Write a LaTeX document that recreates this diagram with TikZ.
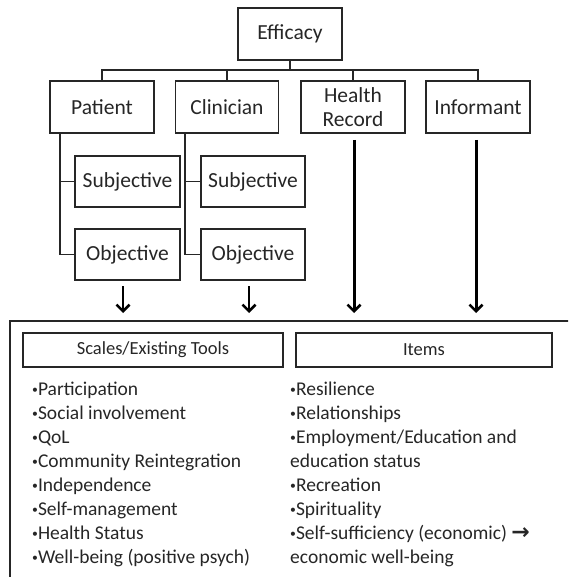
\documentclass[tikz,border=0pt]{standalone}
\usepackage{graphicx}
\usepackage{fontspec}
\setmainfont{Carlito}
\newfontfamily\symfont{DejaVu Sans}
\newcommand\blt{\raisebox{2pt}{\scalebox{0.6}{•}}}
\usetikzlibrary{arrows.meta}
\tikzset{
  box/.style={draw=black!85, line width=1.2pt, minimum width=104pt, minimum height=52pt, inner sep=0pt, align=center, font=\fontsize{21.5}{24}\selectfont, text=black!85},
  subbox/.style={box, minimum width=105pt, minimum height=51pt},
  hdr/.style={draw=black!85, line width=1.2pt, minimum height=34pt, inner sep=0pt, font=\fontsize{18.5}{22}\selectfont, text=black!85},
  conn/.style={draw=black!85, line width=1.2pt},
  shortarr/.style={line width=2.2pt, -{Straight Barb[length=6.5pt, width=13pt, line width=2.6pt]}},
  longarr/.style={line width=3pt, -{Straight Barb[length=6.5pt, width=13pt, line width=2.6pt]}},
  item/.style={anchor=base west, inner sep=0pt, font=\fontsize{19.5}{24}\selectfont, text=black!85}
}
\begin{document}
\begin{tikzpicture}[x=1pt, y=-1pt]
\useasboundingbox (0,0) rectangle (568,577);
\begin{scope}
\clip (0,0) rectangle (568,577);
% top nodes
\node[box] (eff) at (290,34) {Efficacy};
\node[box] (pat) at (102,107) {Patient};
\node[box, minimum width=103pt] (cli) at (227,107) {Clinician};
\node[box] (hr) at (353,107) {Health\\Record};
\node[box] (inf) at (478,107) {Informant};
\node[subbox] (psub) at (127.5,181.5) {Subjective};
\node[subbox] (pobj) at (127.5,254.5) {Objective};
\node[subbox, minimum width=104pt] (csub) at (253,181.5) {Subjective};
\node[subbox, minimum width=104pt] (cobj) at (253,254.5) {Objective};
% tree connectors
\coordinate (bus) at (290,70);
\draw[conn] (eff.south) -- (bus);
\draw[conn] (pat.north) |- (bus) -| (inf.north);
\draw[conn] (cli.north) -- (cli.north |- bus);
\draw[conn] (hr.north) -- (hr.north |- bus);
\draw[conn] (pat.south -| 60,0) |- (pobj.west);
\draw[conn] (60,181.5) -- (psub.west);
\draw[conn] (cli.south -| 185,0) |- (cobj.west);
\draw[conn] (185,181.5) -- (csub.west);
% arrows
\coordinate (a1s) at (123,286); \coordinate (a1e) at (123,313);
\coordinate (a2s) at (249,286); \coordinate (a2e) at (249,313);
\coordinate (a3s) at (354,140); \coordinate (a3e) at (354,313);
\coordinate (a4s) at (476,140); \coordinate (a4e) at (476,313);
\draw[shortarr] (a1s) -- (a1e);
\draw[shortarr] (a2s) -- (a2e);
\draw[longarr] (a3s) -- (a3e);
\draw[longarr] (a4s) -- (a4e);
% big box
\draw[conn] (10,600) -- (10,321) -- (600,321);
\node[hdr, minimum width=260pt] (scales) at (153,350) {Scales/Existing Tools};
\node[hdr, minimum width=256pt] (items) at (424,350) {Items};
% lists
\foreach \t [count=\i] in {{\blt Participation},{\blt Social involvement},{\blt QoL},{\blt Community Reintegration},{\blt Independence},{\blt Self-management},{\blt Health Status},{\blt Well-being (positive psych)}}
  \node[item] (l\i) at (32,{395+24*(\i-1)}) {\t};
\foreach \t [count=\i] in {{\blt Resilience},{\blt Relationships},{\blt Employment/Education and},{education status},{\blt Recreation},{\blt Spirituality},{\blt Self-sufficiency (economic) {\symfont\bfseries\fontsize{22}{22}\selectfont →}},{economic well-being}}
  \node[item] (r\i) at (290,{395+24*(\i-1)}) {\t};
\end{scope}
\end{tikzpicture}
\end{document}
